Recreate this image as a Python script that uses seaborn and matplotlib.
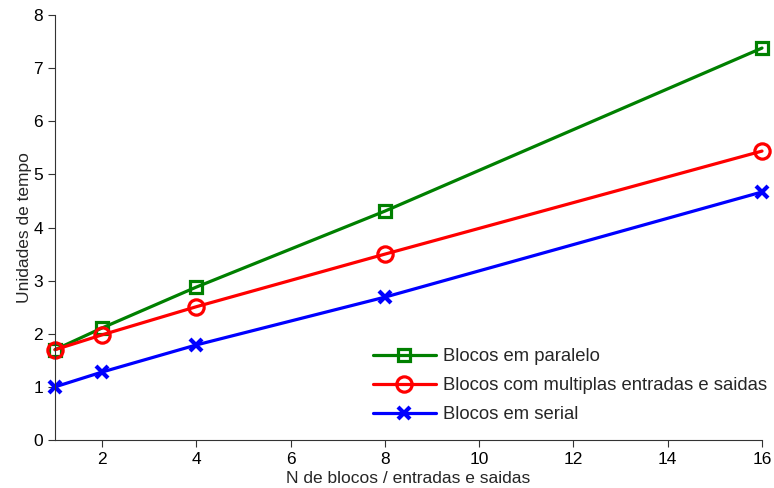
import matplotlib
matplotlib.use("Agg")
import matplotlib.pyplot as plt
import seaborn as sns
import pandas as pd

x_vals = [1, 2, 4, 8, 16]
paralelo = [1.70, 2.11, 2.88, 4.31, 7.38]
multiplas = [1.70, 1.98, 2.51, 3.50, 5.44]
serial = [1.00, 1.28, 1.79, 2.69, 4.67]
labels = ["Blocos em paralelo", "Blocos com multiplas entradas e saidas", "Blocos em serial"]

sns.set_theme(style="ticks")
plt.rcParams['font.family'] = ['Liberation Sans', 'DejaVu Sans']

fig = plt.figure(figsize=(7.74, 4.88), dpi=100)
ax = fig.add_axes([0.0711, 0.0984, 0.9134, 0.8706])

series = [(paralelo, labels[0], (0, 0.5, 0), 's', 9, 2.3),
          (multiplas, labels[1], (1, 0, 0), 'o', 11, 2.3),
          (serial, labels[2], (0, 0, 1), 'x', 8, 3.0)]
for vals, lab, col, mk, ms, mew in series:
    df = pd.DataFrame({"x": x_vals, "y": vals})
    sns.lineplot(data=df, x="x", y="y", ax=ax, color=col, linewidth=2.3,
                 marker=mk, markersize=ms, markerfacecolor='none',
                 markeredgecolor=col, markeredgewidth=mew, label=lab, clip_on=False)

ax.set_xlim(1, 16)
ax.set_ylim(0, 8)
ax.set_xticks([2, 4, 6, 8, 10, 12, 14, 16])
ax.set_yticks(range(0, 9))
ax.set_xlabel("N de blocos / entradas e saidas", fontsize=12.5, labelpad=3)
ax.set_ylabel("Unidades de tempo", fontsize=12.5, labelpad=1)
ax.tick_params(axis='both', labelsize=12.5, direction='out', length=5, width=0.8, colors='#333333', labelcolor='black')
for s in ['top', 'right']:
    ax.spines[s].set_visible(False)
for s in ['left', 'bottom']:
    ax.spines[s].set_color('#333333')
    ax.spines[s].set_linewidth(0.8)

leg = ax.legend(loc='lower right', bbox_to_anchor=(1.018, 0.022), frameon=False, fontsize=13.3,
                handlelength=3.4, labelspacing=0.65, borderaxespad=0.0, handletextpad=0.4)

fig.savefig("out.png", dpi=100)
